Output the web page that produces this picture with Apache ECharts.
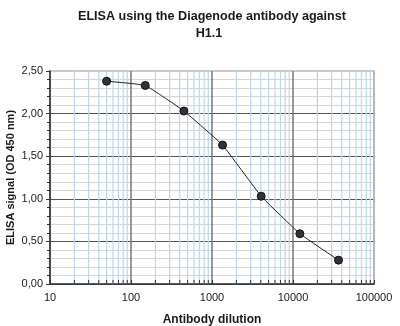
<!DOCTYPE html>
<html><head><meta charset="utf-8">
<script src="https://cdn.jsdelivr.net/npm/echarts@6/dist/echarts.min.js"></script>
<style>html,body{margin:0;padding:0;background:#fff}#c{width:400px;height:326px}</style>
</head><body><div id="c"></div>
<script>
var titleLines = ['ELISA using the Diagenode antibody against', 'H1.1'];
var xName = 'Antibody dilution';
var yName = 'ELISA signal (OD 450 nm)';
var dilutions = [50, 150, 450, 1350, 4050, 12150, 36450];
var signal = [2.38, 2.33, 2.03, 1.63, 1.03, 0.59, 0.28];
var xMin = 10, xMax = 100000;
var yMin = 0, yMax = 2.5, yStep = 0.5;
var minorX = [];
[10, 100, 1000, 10000].forEach(function (d) { for (var k = 2; k <= 9; k++) minorX.push(d * k); });

var chart = echarts.init(document.getElementById('c'), null, {renderer: 'canvas'});
var F = 'Arial, "Liberation Sans", sans-serif';
chart.setOption({
  animation: false,
  backgroundColor: '#fff',
  graphic: [
    {type: 'text', style: {text: titleLines[0], x: 212, y: 10, textAlign: 'center', font: 'bold 12.6px ' + F, fill: '#1a1a1a'}},
    {type: 'text', style: {text: titleLines[1], x: 209, y: 27, textAlign: 'center', font: 'bold 12.6px ' + F, fill: '#1a1a1a'}}
  ],
  grid: {left: 50, right: 26, top: 71, bottom: 42, outerBoundsMode: 'none', containLabel: false, show: true, borderColor: '#b4b4b4', borderWidth: 1.5, backgroundColor: 'transparent'},
  xAxis: {
    type: 'log', logBase: 10, min: xMin, max: xMax,
    name: xName, nameLocation: 'middle', nameGap: 30, nameMoveOverlap: false,
    nameTextStyle: {fontFamily: F, fontWeight: 'bold', fontSize: 12, color: '#1a1a1a'},
    axisLine: {show: true, lineStyle: {color: '#333', width: 1.5}},
    axisTick: {show: true, inside: true, length: 4, lineStyle: {color: '#333'}},
    axisLabel: {fontFamily: F, fontSize: 11, color: '#1a1a1a', margin: 8, formatter: function (v) { return String(Math.round(v)); }},
    splitLine: {show: true, lineStyle: {color: ['#777', '#777', '#777', '#777', '#b4b4b4'], width: 1.5}}
  },
  yAxis: {
    type: 'value', min: yMin, max: yMax, interval: yStep,
    name: yName, nameLocation: 'middle', nameRotate: 90, nameGap: 34, nameMoveOverlap: false,
    nameTextStyle: {fontFamily: F, fontWeight: 'bold', fontSize: 11, color: '#1a1a1a'},
    axisLine: {show: true, lineStyle: {color: '#333', width: 1.5}},
    axisTick: {show: true, length: 4, lineStyle: {color: '#333'}},
    minorTick: {show: true, splitNumber: 5, length: 3, lineStyle: {color: '#333'}},
    axisLabel: {fontFamily: F, fontSize: 11, color: '#1a1a1a', margin: 7, formatter: function (v) { return v.toFixed(2).replace('.', ','); }},
    splitLine: {show: true, lineStyle: {color: ['#555', '#555', '#555', '#555', '#555', '#c8c8c8'], width: 1.2}},
    minorSplitLine: {show: true, lineStyle: {color: '#d6d6d6', width: 1}}
  },
  series: [
    {
      type: 'custom', silent: true, z: 1,
      data: minorX.map(function (v) { return [v, yMin]; }),
      encode: {x: 0, y: 1},
      renderItem: function (params, api) {
        var v = api.value(0);
        var p0 = api.coord([v, yMin]);
        var p1 = api.coord([v, yMax]);
        return {type: 'group', children: [
          {type: 'line', shape: {x1: p0[0], y1: p0[1], x2: p1[0], y2: p1[1]}, style: {stroke: '#bcd6ee', lineWidth: 1.2}},
          {type: 'line', shape: {x1: p0[0], y1: p0[1], x2: p0[0], y2: p0[1] - 4}, style: {stroke: '#333', lineWidth: 1}}
        ]};
      }
    },
    {
      type: 'line', z: 3,
      data: dilutions.map(function (d, i) { return [d, signal[i]]; }),
      smooth: 0.1,
      symbol: 'circle', symbolSize: 8,
      lineStyle: {color: '#222', width: 1},
      itemStyle: {color: '#333', borderColor: '#111', borderWidth: 1}
    }
  ]
});
</script></body></html>
